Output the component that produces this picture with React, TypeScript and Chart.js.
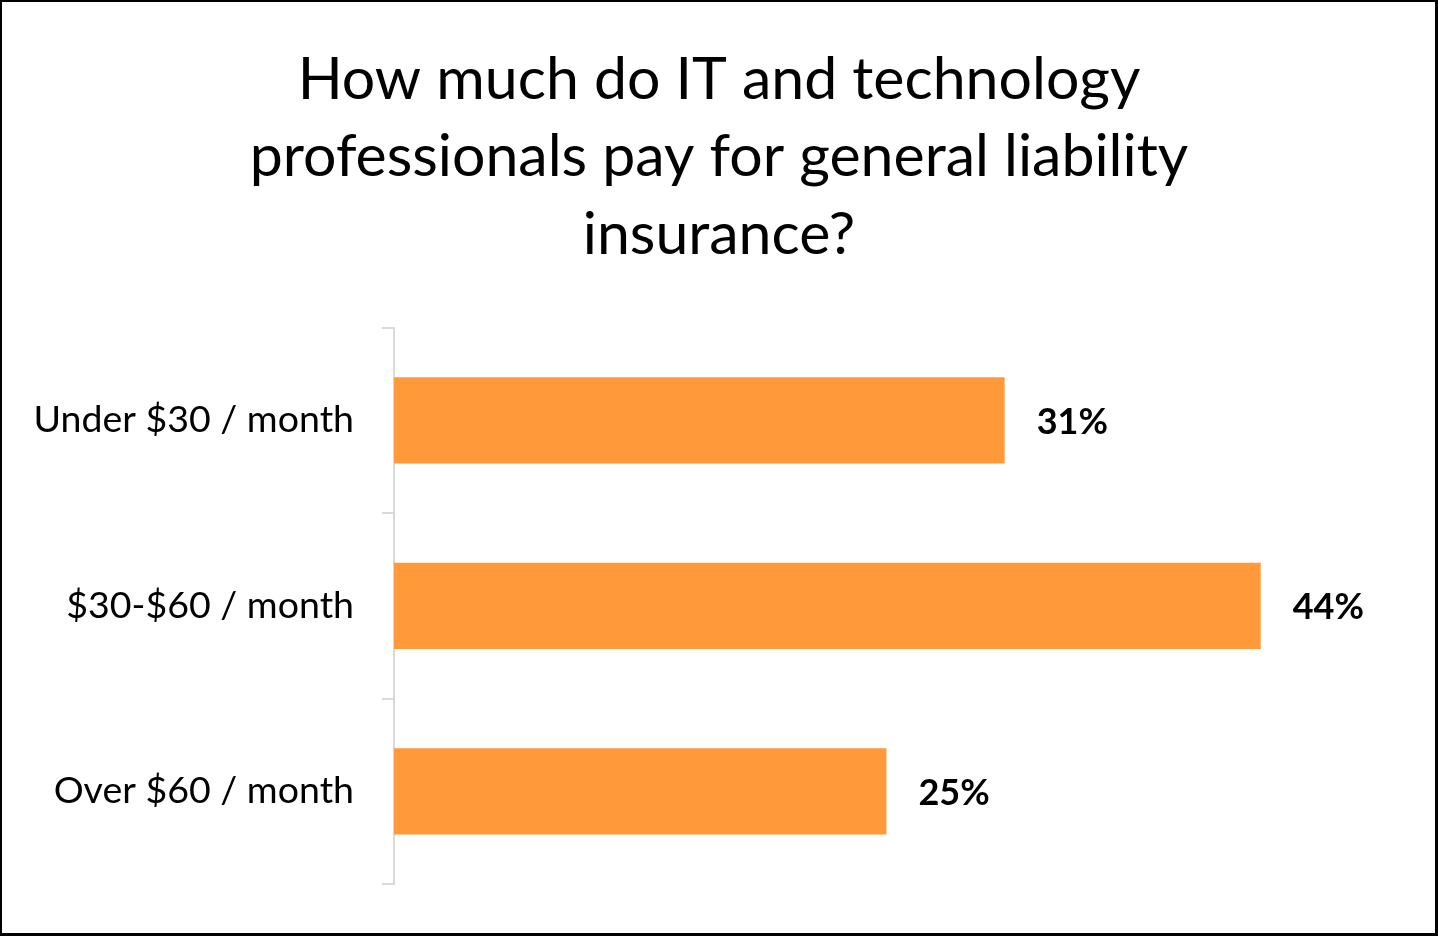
import React, { useEffect, useRef } from "react";
import { Chart, registerables } from "chart.js";

Chart.register(...registerables);

const titleLines = [
  "How much do IT and technology",
  "professionals pay for general liability",
  "insurance?",
];
const categories = ["Under $30 / month", "$30-$60 / month", "Over $60 / month"];
const shares = [31, 44, 25];

const FONT = "Lato, 'Open Sans', sans-serif";

const valueLabels = {
  id: "valueLabels",
  afterDatasetsDraw(chart: any) {
    const ctx = chart.ctx;
    const meta = chart.getDatasetMeta(0);
    ctx.save();
    ctx.font = `bold 36px ${FONT}`;
    ctx.fillStyle = "#000000";
    ctx.textAlign = "left";
    ctx.textBaseline = "middle";
    meta.data.forEach((bar: any, i: number) => {
      const v = chart.data.datasets[0].data[i];
      ctx.fillText(`${v}%`, bar.x + 32, bar.y + 2);
    });
    ctx.restore();
  },
};

export default function App() {
  const ref = useRef<HTMLCanvasElement | null>(null);

  useEffect(() => {
    if (!ref.current) return;
    const chart = new Chart(ref.current, {
      type: "bar",
      data: {
        labels: categories,
        datasets: [
          {
            data: shares,
            backgroundColor: "#ff993a",
            borderWidth: 0,
            barPercentage: 0.465,
            categoryPercentage: 1,
          },
        ],
      },
      options: {
        indexAxis: "y",
        animation: false,
        responsive: true,
        maintainAspectRatio: false,
        layout: { padding: { left: 0, right: 0, top: 0, bottom: 52 } },
        plugins: {
          legend: { display: false },
          tooltip: { enabled: false },
          title: {
            display: true,
            text: titleLines,
            color: "#000000",
            font: { family: FONT, size: 59, weight: "normal", lineHeight: 1.314 },
            padding: { top: 41, bottom: 54 },
          },
        },
        scales: {
          x: {
            display: false,
            min: 0,
            max: 53,
          },
          y: {
            afterFit: (scale: any) => {
              scale.width = 394;
            },
            grid: {
              display: true,
              drawOnChartArea: false,
              drawTicks: true,
              tickLength: 12,
              color: "#d9d9d9",
              lineWidth: 2,
              offset: true,
            },
            border: { display: true, color: "#d9d9d9", width: 2 },
            ticks: {
              color: "#000000",
              padding: 28,
              font: { family: FONT, size: 37.5 },
            },
          },
        },
      },
      plugins: [valueLabels],
    });
    return () => chart.destroy();
  }, []);

  return (
    <div style={{ position: "fixed", left: 0, top: 0, width: 1438, height: 936, background: "#ffffff" }}>
      <canvas ref={ref} />
      <div
        style={{
          position: "absolute",
          left: 0,
          top: 0,
          width: 1438,
          height: 936,
          boxSizing: "border-box",
          borderStyle: "solid",
          borderColor: "#000000",
          borderWidth: "2px 3px 3px 2px",
          pointerEvents: "none",
        }}
      />
    </div>
  );
}
